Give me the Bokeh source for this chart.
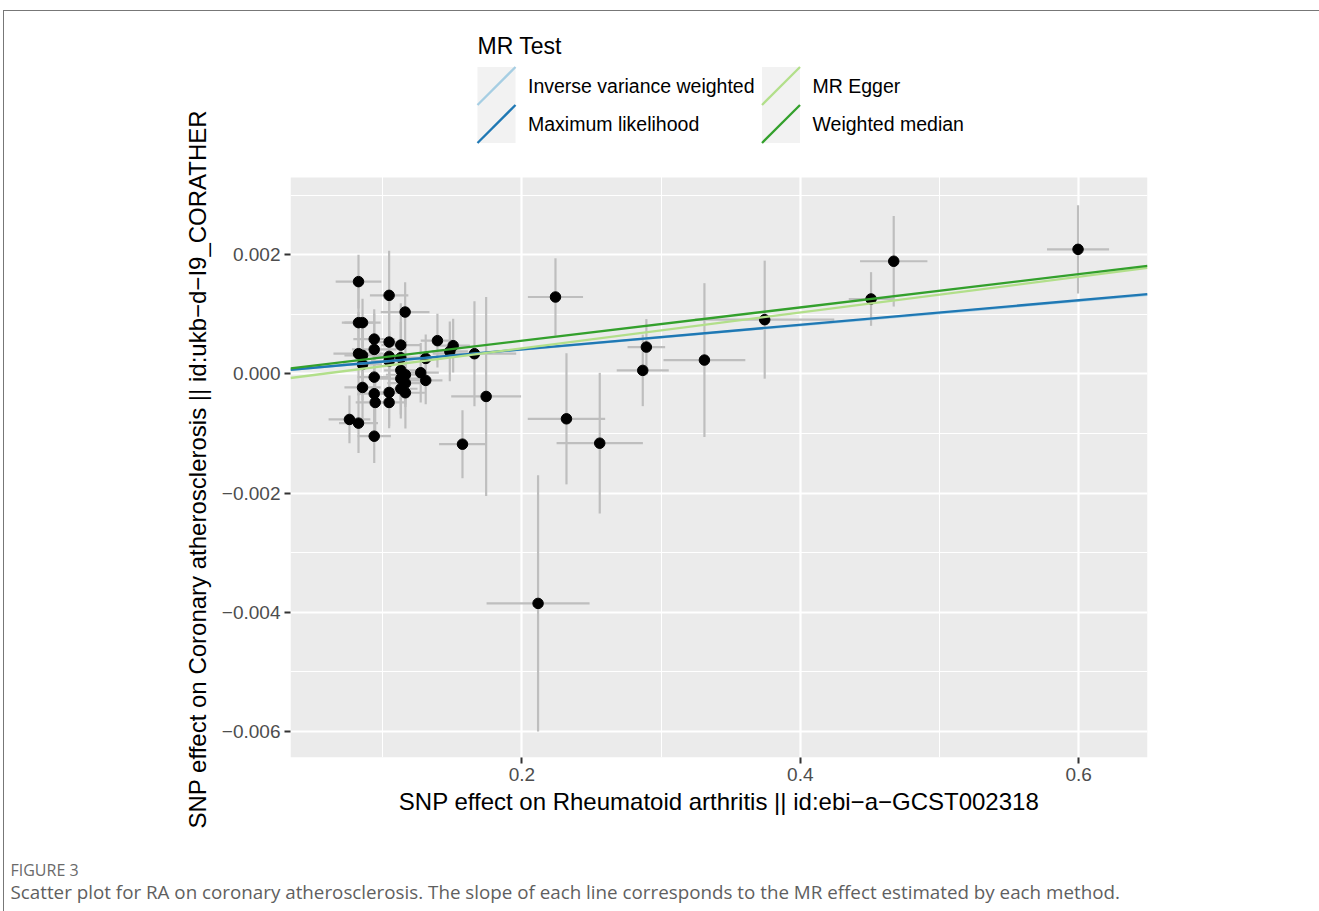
from bokeh.plotting import figure
from bokeh.models import Range1d, FixedTicker, Title, ColumnDataSource, InlineStyleSheet
from bokeh.core.properties import value
from bokeh.embed import file_html
from bokeh.resources import INLINE

# ---------------- data ----------------
snp_x = [0.0826, 0.1046, 0.1161, 0.0826, 0.0855, 0.0939, 0.1046, 0.1130, 0.0939, 0.0826,
         0.0855, 0.1046, 0.1046, 0.1130, 0.0855, 0.1309, 0.1393, 0.1506, 0.1482, 0.1659,
         0.0939, 0.1130, 0.1163, 0.1130, 0.1163, 0.1130, 0.1163, 0.1273, 0.1309, 0.0855,
         0.0939, 0.1046, 0.0946, 0.1046, 0.0761, 0.0826, 0.0939, 0.1573, 0.1743, 0.2241,
         0.2320, 0.2559, 0.2894, 0.2868, 0.2116, 0.3311, 0.3744, 0.4508, 0.4671, 0.5995]
snp_y = [0.001548, 0.001318, 0.001038, 0.000860, 0.000860, 0.000584, 0.000534, 0.000484, 0.000411, 0.000339,
         0.000311, 0.000294, 0.000215, 0.000272, 0.000160, 0.000260, 0.000558, 0.000474, 0.000378, 0.000339,
         -0.000054, 0.000060, -0.000014, -0.000080, -0.000155, -0.000249, -0.000316, 0.000020, -0.000109, -0.000227,
         -0.000332, -0.000311, -0.000479, -0.000479, -0.000764, -0.000826, -0.001045, -0.001179, -0.000378, 0.001290,
         -0.000753, -0.001162, 0.000450, 0.000059, -0.003850, 0.000232, 0.000910, 0.001257, 0.001890, 0.002090]
se_x = [0.0164, 0.0138, 0.0175, 0.0120, 0.0130, 0.0150, 0.0130, 0.0140, 0.0160, 0.0180,
        0.0130, 0.0120, 0.0130, 0.0160, 0.0140, 0.0120, 0.0120, 0.0120, 0.0130, 0.0300,
        0.0120, 0.0120, 0.0140, 0.0150, 0.0130, 0.0120, 0.0140, 0.0130, 0.0120, 0.0130,
        0.0120, 0.0120, 0.0140, 0.0120, 0.0150, 0.0140, 0.0120, 0.0168, 0.0251, 0.0198,
        0.0278, 0.0310, 0.0135, 0.0187, 0.0370, 0.0294, 0.0500, 0.0160, 0.0242, 0.0223]
se_y = [0.00045, 0.00075, 0.00050, 0.00060, 0.00040, 0.00050, 0.00090, 0.00070, 0.00060, 0.00070,
        0.00050, 0.00040, 0.00050, 0.00060, 0.00060, 0.00040, 0.00045, 0.00045, 0.00050, 0.00088,
        0.00050, 0.00050, 0.00050, 0.00060, 0.00040, 0.00050, 0.00060, 0.00050, 0.00040, 0.00060,
        0.00050, 0.00060, 0.00050, 0.00040, 0.00040, 0.00050, 0.00045, 0.00057, 0.00167, 0.00065,
        0.00110, 0.00118, 0.00047, 0.00060, 0.00215, 0.00129, 0.00099, 0.00045, 0.00076, 0.00074]

methods = ["Inverse variance weighted", "Maximum likelihood", "MR Egger", "Weighted median"]
method_slope = [0.00204, 0.00206, 0.00300, 0.00279]
method_intercept = [0.0, 0.0, -0.00017, 0.0]
method_color = ["#a6cee3", "#1f78b4", "#b2df8a", "#33a02c"]

x_ticks = [0.2, 0.4, 0.6]
x_minor = [0.1, 0.3, 0.5]
y_ticks = [-0.006, -0.004, -0.002, 0.0, 0.002]
y_minor = [-0.005, -0.003, -0.001, 0.001, 0.003]
y_tick_labels = ["\u22120.006", "\u22120.004", "\u22120.002", "0.000", "0.002"]
x_tick_labels = ["0.2", "0.4", "0.6"]

x_title = "SNP effect on Rheumatoid arthritis || id:ebi\u2212a\u2212GCST002318"
y_title = "SNP effect on Coronary atherosclerosis || id:ukb\u2212d\u2212I9_CORATHER"
legend_title = "MR Test"
fig_label = "FIGURE 3"
caption = ("Scatter plot for RA on coronary atherosclerosis. The slope of each line "
           "corresponds to the MR effect estimated by each method.")

# ---------------- layout constants (pixels) ----------------
W, H = 1319, 911
FL, FR, FTOP, FB = 290, 1147, 20, 757      # frame (includes the legend strip on top)
PANEL_TOP = 177                             # top edge of the grey panel
FONT = "Liberation Sans"

X0, X1 = 0.03375, 0.6494                    # panel x extent (data)
Y0, Y1 = -0.006435, 0.003295                # panel y extent (data)
y_per_px = (Y1 - Y0) / (FB - PANEL_TOP)
Y_TOP = Y1 + (PANEL_TOP - FTOP) * y_per_px  # frame top (legend strip)

page_css = InlineStyleSheet(css=""":host { position: relative; }
:host::after { content: ""; position: absolute; left: 3px; top: 10px; right: 0; bottom: 0;
  border-top: 1px solid #777; border-left: 1px solid #777; pointer-events: none; }""")

p = figure(width=W, height=H, output_backend="svg", toolbar_location=None,
           x_range=Range1d(X0, X1), y_range=Range1d(Y0, Y_TOP),
           min_border_left=FL, min_border_right=W - FR, min_border_top=FTOP,
           min_border_bottom=H - FB, stylesheets=[page_css])
p.title.visible = False
p.outline_line_color = None
p.background_fill_color = "white"
p.border_fill_color = "white"

# pixel-space ranges for the legend strip
p.extra_x_ranges = {"px": Range1d(FL, FR)}
p.extra_y_ranges = {"px": Range1d(FB, FTOP)}

# grey panel (drawn beneath the grid)
p.quad(left=[X0], right=[X1], bottom=[Y0], top=[Y1], fill_color="#ebebeb", line_color=None,
       level="image")

p.xaxis.ticker = FixedTicker(ticks=x_ticks, minor_ticks=x_minor)
p.yaxis.ticker = FixedTicker(ticks=y_ticks, minor_ticks=y_minor)
p.yaxis.bounds = (Y0, Y1)
p.xaxis.major_label_overrides = {t: l for t, l in zip(x_ticks, x_tick_labels)}
p.yaxis.major_label_overrides = {t: l for t, l in zip(y_ticks, y_tick_labels)}
for ax in (p.xaxis, p.yaxis):
    ax.axis_line_color = None
    ax.minor_tick_line_color = None
    ax.major_tick_line_color = "#333333"
    ax.major_tick_line_width = 2
    ax.major_tick_out = 6
    ax.major_tick_in = 0
    ax.major_label_text_font = FONT
    ax.major_label_text_font_size = "19px"
    ax.major_label_text_color = "#4d4d4d"
    ax.major_label_standoff = 4
    ax.axis_label_text_font = FONT
    ax.axis_label_text_font_size = "24px"
    ax.axis_label_text_font_style = "normal"
    ax.axis_label_text_color = "black"
p.xaxis.axis_label = x_title
p.xaxis.axis_label_standoff = 4

# y title: placed beside the y axis, starting below the panel like the original
p.add_layout(Title(text=y_title, align="left", offset=-71, standoff=16,
                   text_font=FONT, text_font_size="24px", text_font_style="normal",
                   text_color="black"), "left")

for g in (p.xgrid, p.ygrid):
    g.grid_line_color = "white"
    g.grid_line_width = 2.2
    g.minor_grid_line_color = "white"
    g.minor_grid_line_width = 1.1

src = ColumnDataSource(dict(
    x=snp_x, y=snp_y,
    xl=[a - b for a, b in zip(snp_x, se_x)], xu=[a + b for a, b in zip(snp_x, se_x)],
    yl=[a - b for a, b in zip(snp_y, se_y)], yu=[a + b for a, b in zip(snp_y, se_y)],
))
p.segment(x0="x", y0="yl", x1="x", y1="yu", source=src, line_color="#bebebe", line_width=2.2)
p.segment(x0="xl", y0="y", x1="xu", y1="y", source=src, line_color="#bebebe", line_width=2.2)
p.scatter(x="x", y="y", source=src, size=10.5, fill_color="black", line_color="black")

for s, i, c in zip(method_slope, method_intercept, method_color):
    p.line(x=[X0, X1], y=[i + s * X0, i + s * X1], line_color=c, line_width=2.3)

# ---------------- legend (pixel space, above the panel) ----------------
p.text(x=[477], y=[45], text=[legend_title], x_range_name="px", y_range_name="px",
       text_font=value(FONT), text_font_size=value("23px"), text_baseline="middle",
       text_color="black")
key_x = [477, 761.5]
key_y = [66.5, 104.5]
KS = 38
kl, kt = [], []
for k in range(len(methods)):
    kl.append(key_x[k // 2])
    kt.append(key_y[k % 2])
p.quad(left=kl, right=[v + KS for v in kl], top=kt, bottom=[v + KS for v in kt],
       x_range_name="px", y_range_name="px", fill_color="#f2f2f2", line_color=None)
p.segment(x0=kl, y0=[v + KS for v in kt], x1=[v + KS for v in kl], y1=kt,
          x_range_name="px", y_range_name="px", line_color=method_color, line_width=2.3)
p.text(x=[v + 50.5 for v in kl], y=[v + KS / 2 for v in kt], text=methods,
       x_range_name="px", y_range_name="px", text_font=value(FONT),
       text_font_size=value("19.5px"), text_baseline="middle", text_color="black")

# ---------------- caption (below the x axis) ----------------
p.add_layout(Title(text=" ", align="left", offset=0, standoff=36,
                   text_font="Open Sans", text_font_size="1px", text_font_style="normal",
                   text_color="white"), "below")
p.add_layout(Title(text=fig_label, align="left", offset=-280, standoff=0,
                   text_font="Open Sans", text_font_size="16px", text_font_style="normal",
                   text_color="#6a6a6a"), "below")
p.add_layout(Title(text=caption, align="left", offset=-280, standoff=-8,
                   text_font="Open Sans", text_font_size="18.8px", text_font_style="normal",
                   text_color="#5f5f5f"), "below")

open("out.html", "w").write(file_html(p, INLINE))
